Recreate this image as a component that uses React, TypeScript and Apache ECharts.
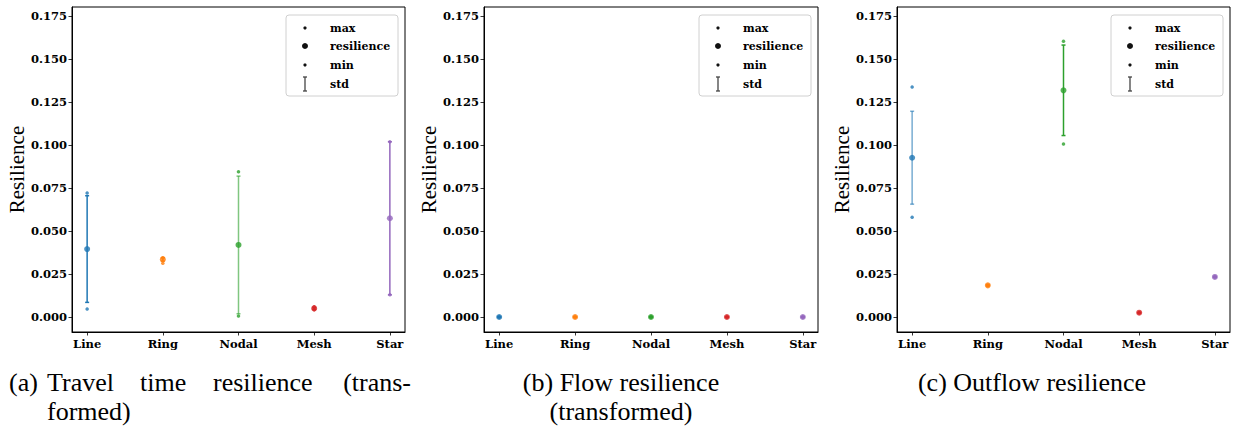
import React, { useEffect, useRef } from "react";
import * as echarts from "echarts";

const CATEGORIES = ["Line", "Ring", "Nodal", "Mesh", "Star"];
const COLORS = ["#1f77b4", "#ff7f0e", "#2ca02c", "#d62728", "#9467bd"];
const Y_TICKS = [0, 0.025, 0.05, 0.075, 0.1, 0.125, 0.15, 0.175];

// (a) Travel time resilience (transformed)
const TRAVEL_RES = [0.0395, 0.0335, 0.0419, 0.005, 0.0574];
const TRAVEL_MAX = [0.0721, 0.0345, 0.0845, 0.006, 0.1019];
const TRAVEL_MIN = [0.0047, 0.0312, 0.0006, 0.0042, 0.013];
const TRAVEL_STD = [0.031, 0.001, 0.04, 0.0005, 0.0445];

// (b) Flow resilience (transformed)
const FLOW_RES = [0, 0, 0, 0, 0];
const FLOW_MAX = [0, 0, 0, 0, 0];
const FLOW_MIN = [0, 0, 0, 0, 0];
const FLOW_STD = [0, 0, 0, 0, 0];

// (c) Outflow resilience
const OUT_RES = [0.0926, 0.0184, 0.1318, 0.0025, 0.0233];
const OUT_MAX = [0.1337, 0.0186, 0.1603, 0.0026, 0.0235];
const OUT_MIN = [0.058, 0.0182, 0.1006, 0.0024, 0.0231];
const OUT_STD = [0.027, 0.0003, 0.0263, 0.0001, 0.0002];

const LEGEND_LABELS = ["max", "resilience", "min", "std"];

const PANELS = [
  { res: TRAVEL_RES, max: TRAVEL_MAX, min: TRAVEL_MIN, std: TRAVEL_STD, stdAlpha: [1, 1, 0.6, 1, 1], left: 72, width: 333 },
  { res: FLOW_RES, max: FLOW_MAX, min: FLOW_MIN, std: FLOW_STD, stdAlpha: [1, 1, 1, 1, 1], left: 484, width: 334 },
  { res: OUT_RES, max: OUT_MAX, min: OUT_MIN, std: OUT_STD, stdAlpha: [0.6, 1, 1, 1, 1], left: 897, width: 333 },
];

const TICK_FONT = "DejaVu Serif";
const CAPTION_FONT = "Liberation Serif";
const GRID_TOP = 7;
const GRID_HEIGHT = 325;

function hexToRgba(hex: string, a: number) {
  const r = parseInt(hex.slice(1, 3), 16);
  const g = parseInt(hex.slice(3, 5), 16);
  const b = parseInt(hex.slice(5, 7), 16);
  return `rgba(${r},${g},${b},${a})`;
}

export default function App() {
  const ref = useRef<HTMLDivElement>(null);
  useEffect(() => {
    if (!ref.current) return;
    const chart = echarts.init(ref.current, null, { renderer: "svg" });

    const grids: any[] = [];
    const xAxes: any[] = [];
    const yAxes: any[] = [];
    const series: any[] = [];
    const graphics: any[] = [];

    PANELS.forEach((p, pi) => {
      grids.push({
        left: p.left,
        top: GRID_TOP,
        width: p.width,
        height: GRID_HEIGHT,
        show: true,
        borderColor: "#000",
        borderWidth: 1,
        backgroundColor: "transparent",
      });
      xAxes.push({
        gridIndex: pi,
        type: "value",
        min: -0.2,
        max: 4.2,
        splitLine: { show: false },
        axisLine: { show: true, onZero: false, lineStyle: { color: "#000", width: 1 } },
        axisTick: { show: true, length: 3.5, lineStyle: { color: "#000", width: 0.8 }, customValues: [0, 1, 2, 3, 4] },
        axisLabel: {
          customValues: [0, 1, 2, 3, 4],
          formatter: (v: number) => CATEGORIES[Math.round(v)],
          fontFamily: TICK_FONT,
          fontWeight: "bold",
          fontSize: 11.5,
          color: "#000",
          margin: 6,
        },
      });
      yAxes.push({
        gridIndex: pi,
        type: "value",
        min: -0.00872,
        max: 0.18023,
        splitLine: { show: false },
        name: "Resilience",
        nameLocation: "middle",
        nameGap: 43,
        nameTextStyle: { fontFamily: CAPTION_FONT, fontSize: 21, color: "#000" },
        axisLine: { show: true, onZero: false, lineStyle: { color: "#000", width: 1 } },
        axisTick: { show: true, length: 3.5, lineStyle: { color: "#000", width: 0.8 }, customValues: Y_TICKS },
        axisLabel: {
          customValues: Y_TICKS,
          formatter: (v: number) => v.toFixed(3),
          fontFamily: TICK_FONT,
          fontWeight: "bold",
          fontSize: 11.5,
          color: "#000",
          margin: 5,
        },
      });

      // std error bars
      series.push({
        type: "custom",
        xAxisIndex: pi,
        yAxisIndex: pi,
        z: 2,
        data: p.res.map((r, i) => [i, r - p.std[i], r + p.std[i]]),
        renderItem: (params: any, api: any) => {
          const idx = api.value(0);
          const top = api.coord([idx, api.value(2)]);
          const bot = api.coord([idx, api.value(1)]);
          const stroke = hexToRgba(COLORS[idx], p.stdAlpha[idx]);
          const cap = 2;
          return {
            type: "group",
            children: [
              { type: "line", shape: { x1: top[0], y1: top[1], x2: bot[0], y2: bot[1] }, style: { stroke, lineWidth: 1.5 } },
              { type: "line", shape: { x1: top[0] - cap, y1: top[1], x2: top[0] + cap, y2: top[1] }, style: { stroke, lineWidth: 1.5 } },
              { type: "line", shape: { x1: bot[0] - cap, y1: bot[1], x2: bot[0] + cap, y2: bot[1] }, style: { stroke, lineWidth: 1.5 } },
            ],
          };
        },
      });
      const scatter = (name: string, vals: number[], size: number) => ({
        type: "scatter",
        name,
        xAxisIndex: pi,
        yAxisIndex: pi,
        z: 3,
        symbol: "circle",
        symbolSize: size,
        data: vals.map((v, i) => ({ value: [i, v], itemStyle: { color: COLORS[i] } })),
      });
      series.push(scatter("max", p.max, 3.5));
      series.push(scatter("min", p.min, 3.5));
      series.push(scatter("resilience", p.res, 6));

      // legend box
      const right = p.left + p.width - 7;
      const bx = right - 112;
      const by = 15;
      const mx = bx + 19;
      const rows = [13, 31, 50, 69];
      const children: any[] = [
        { type: "rect", shape: { x: bx, y: by, width: 112, height: 81, r: 3 }, style: { fill: "rgba(255,255,255,0.8)", stroke: "#d0d0d0", lineWidth: 1 } },
        { type: "circle", shape: { cx: mx, cy: by + rows[0], r: 1.6 }, style: { fill: "#111" } },
        { type: "circle", shape: { cx: mx, cy: by + rows[1], r: 3 }, style: { fill: "#111" } },
        { type: "circle", shape: { cx: mx, cy: by + rows[2], r: 1.6 }, style: { fill: "#111" } },
        { type: "line", shape: { x1: mx, y1: by + rows[3] - 7, x2: mx, y2: by + rows[3] + 7 }, style: { stroke: "#444", lineWidth: 1.3 } },
        { type: "line", shape: { x1: mx - 2, y1: by + rows[3] - 7, x2: mx + 2, y2: by + rows[3] - 7 }, style: { stroke: "#444", lineWidth: 1.3 } },
        { type: "line", shape: { x1: mx - 2, y1: by + rows[3] + 7, x2: mx + 2, y2: by + rows[3] + 7 }, style: { stroke: "#444", lineWidth: 1.3 } },
      ];
      LEGEND_LABELS.forEach((lab, li) => {
        children.push({
          type: "text",
          x: bx + 44,
          y: by + rows[li],
          style: { text: lab, fontFamily: TICK_FONT, fontWeight: "bold", fontSize: 11, fill: "#000", verticalAlign: "middle", align: "left" },
        });
      });
      graphics.push({ type: "group", z: 10, children });
    });

    // captions
    const cap = (text: string, x: number, y: number, align: string) => ({
      type: "text",
      x,
      y,
      style: { text, fontFamily: CAPTION_FONT, fontSize: 26, fill: "#000", align, verticalAlign: "middle" },
    });
    graphics.push(cap("(a)", 9, 382, "left"));
    graphics.push(cap("Travel", 47, 382, "left"));
    graphics.push(cap("time", 140, 382, "left"));
    graphics.push(cap("resilience", 213, 382, "left"));
    graphics.push(cap("(trans-", 411, 382, "right"));
    graphics.push(cap("formed)", 47, 411, "left"));
    graphics.push(cap("(b) Flow resilience", 621, 382, "center"));
    graphics.push(cap("(transformed)", 621, 411, "center"));
    graphics.push(cap("(c) Outflow resilience", 1032, 382, "center"));

    chart.setOption({
      animation: false,
      backgroundColor: "#fff",
      grid: grids,
      xAxis: xAxes,
      yAxis: yAxes,
      series,
      graphic: graphics,
    });
    return () => chart.dispose();
  }, []);
  return <div ref={ref} style={{ position: "fixed", left: 0, top: 0, width: 1234, height: 429 }} />;
}
